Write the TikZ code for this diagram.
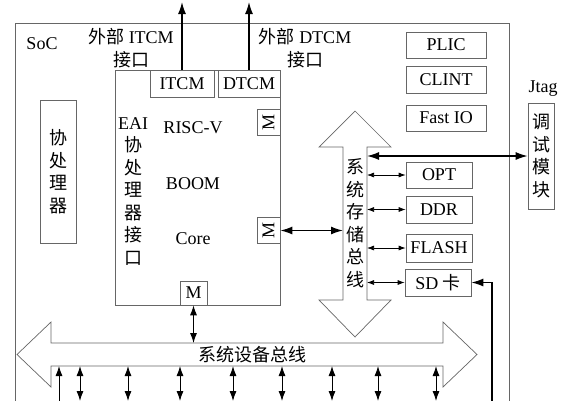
\documentclass[tikz,border=0pt]{standalone}
\usepackage{fontspec}
\setmainfont{Liberation Serif}
\newfontfamily\cjk{Noto Sans CJK SC}
\newcommand\bigfont{\fontsize{18}{22.5}\selectfont}
\usetikzlibrary{
    arrows.meta,
    calc
}
\definecolor{linegray}{gray}{0.4}
\tikzset {
    box/.style = {draw = linegray, line width = 0.7pt, inner sep = 0pt},
    frame/.style = {draw = linegray, line width = 0.7pt},
    mbox/.style = {box, minimum width = 23pt, minimum height = 26pt},
    zh/.style = {font = \bigfont\cjk},
    col/.style = {zh, align = center},
    bigtip/.tip = {Latex[length = 12pt, width = 8pt]},
    devtip/.tip = {Latex[length = 10pt, width = 7pt]},
    smalltip/.tip = {Latex[length = 7pt, width = 5pt]},
    bold arrow/.style = {line width = 1.4pt, arrows = {bigtip-bigtip}},
    bold out/.style = {line width = 1.4pt, arrows = {-bigtip}},
    thin arrow/.style = {line width = 0.7pt, arrows = {smalltip-smalltip}},
    dev arrow/.style = {line width = 0.9pt, arrows = {devtip-devtip}},
    dev out/.style = {line width = 0.9pt, arrows = {-devtip}}
}

\begin{document}
\begin{tikzpicture}[x = 1pt, y = -1pt, font = \bigfont]
    \useasboundingbox (0, 0) rectangle (570, 400);
    \clip (0, 0) rectangle (570, 400);
    \coordinate (top) at (0, 2);
    \coordinate (bottom) at (0, 401);
    % SoC frame
    \draw [frame] (15, 410) |- (509, 23) -- (509, 410);
    \node (soc) at (42, 44) {SoC};
    \node (extI) [align = center] at (131, 48) {{\cjk 外部} ITCM\\{\cjk 接口}};
    \node (extD) [align = center] at (305, 48) {{\cjk 外部} DTCM\\{\cjk 接口}};
    % core
    \node (core) [box, minimum width = 165pt, minimum height = 235pt] at (197.5, 187.5) {};
    \node (itcm) [box, minimum width = 64pt, minimum height = 27pt] at (182, 83.5) {ITCM};
    \node (dtcm) [box, minimum width = 62pt, minimum height = 27pt] at (249, 83.5) {DTCM};
    \node (m1) [mbox] at (268.5, 122) {\rotatebox{90}{M}};
    \node (m2) [mbox] at (268.5, 230.5) {\rotatebox{90}{M}};
    \node (m3) [box, minimum width = 27pt, minimum height = 24pt] at (193.5, 293) {M};
    \node (eai) [align = center] at (133, 191.5)
        {EAI\\{\cjk 协}\\{\cjk 处}\\{\cjk 理}\\{\cjk 器}\\{\cjk 接}\\{\cjk 口}};
    \node (riscv) at (193, 128) {RISC-V};
    \node (boom) at (193, 184) {BOOM};
    \node (corelbl) at (193, 239) {Core};
    \node (cop) [box, col, minimum width = 36pt, minimum height = 143pt] at (58, 171.5)
        {协\\处\\理\\器};
    % peripherals
    \node (plic) [box, minimum width = 80pt, minimum height = 26pt] at (446, 45) {PLIC};
    \node (clint) [box, minimum width = 80pt, minimum height = 27pt] at (446, 79.5) {CLINT};
    \node (fastio) [box, minimum width = 80pt, minimum height = 26pt] at (446, 118) {Fast IO};
    \node (opt) [box, minimum width = 66pt, minimum height = 26pt] at (439, 175) {OPT};
    \node (ddr) [box, minimum width = 66pt, minimum height = 27pt] at (439, 209.5) {DDR};
    \node (flash) [box, minimum width = 66pt, minimum height = 28pt] at (439, 248) {FLASH};
    \node (sd) [box, minimum width = 66pt, minimum height = 27pt] at (438, 282.5) {SD {\cjk 卡}};
    \node (jtag) at (543, 89) {Jtag};
    \node (dbg) [box, col, minimum width = 26pt, minimum height = 106pt] at (541, 156)
        {调\\试\\模\\块};
    % system storage bus
    \draw [frame] (343, 147) -- (319, 147) -- (355, 111) -- (391, 147) -- (367, 147)
        -- (367, 300) -- (391, 300) -- (355, 337) -- (319, 300) -- (343, 300) -- cycle;
    \node (sbus) [col] at (355, 223) {系\\统\\存\\储\\总\\线};
    \coordinate (sbusL) at (343, 0);
    \coordinate (sbusR) at (367, 0);
    % system device bus
    \draw [frame] (51, 343) -- (51, 322) -- (17, 354.5) -- (51, 387) -- (51, 366)
        -- (443, 366) -- (443, 387) -- (477, 354.5) -- (443, 322) -- (443, 343) -- cycle;
    \node (dbus) [zh] at (252, 355) {系统设备总线};
    \coordinate (dbusT) at (0, 343);
    \coordinate (dbusB) at (0, 366);
    % connections
    \draw [bold out] (itcm.north) -- (itcm.north |- top);
    \draw [bold out] (dtcm.north) -- (dtcm.north |- top);
    \draw [bold arrow] (m2.east) -- (m2.east -| sbusL);
    \draw [bold arrow] (dbg.west -| sbusR) -- (dbg.west);
    \foreach \n in {opt, ddr, flash, sd}
        \draw [thin arrow] (\n.west -| sbusR) -- (\n.west);
    \draw [bold out] (492, 401) |- (sd.east);
    \draw [dev arrow] (m3.south) -- (m3.south |- dbusT);
    \foreach \x in {80, 128, 180, 233, 282, 332, 378, 436}
        \draw [dev arrow] (\x, 366) -- (\x, 401);
    \draw [dev out] (59, 401) -- (59, 366);
\end{tikzpicture}
\end{document}
